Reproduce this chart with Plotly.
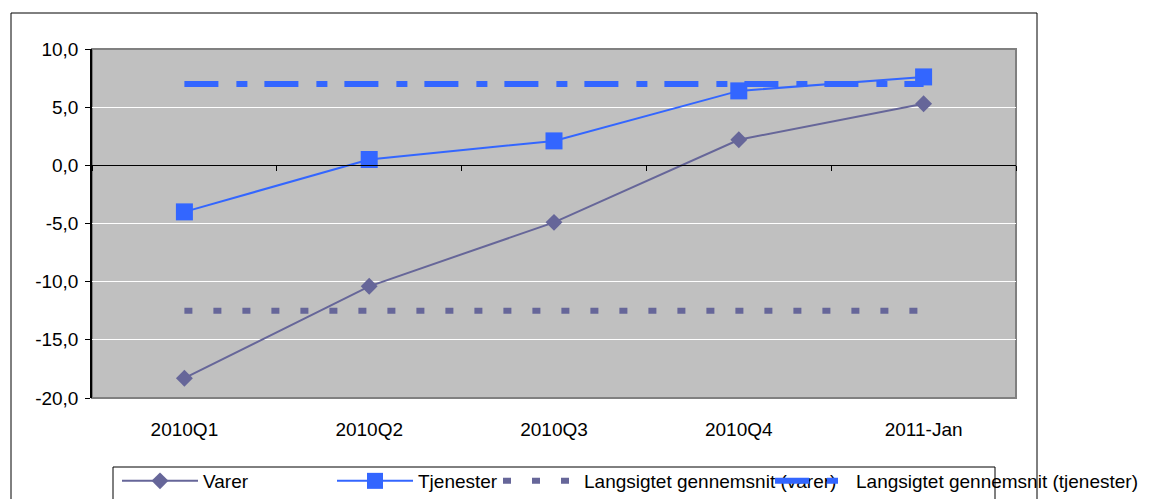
import plotly.graph_objects as go

categories = ["2010Q1", "2010Q2", "2010Q3", "2010Q4", "2011-Jan"]
varer = [-18.3, -10.4, -4.9, 2.2, 5.3]
tjenester = [-4.0, 0.5, 2.1, 6.4, 7.6]
avg_varer = [-12.5] * len(categories)
avg_tjenester = [7.0] * len(categories)
y_min, y_max, y_step = -20, 10, 5

FONT = "Liberation Sans, Arial, sans-serif"
C_VARER = "#666699"
C_TJEN = "#3366FF"

fig = go.Figure()
fig.add_trace(go.Scatter(x=categories, y=varer, name="Varer", mode="lines+markers",
                         line=dict(color=C_VARER, width=2),
                         marker=dict(symbol="diamond", size=13, color=C_VARER),
                         legend="legend"))
fig.add_trace(go.Scatter(x=categories, y=tjenester, name="Tjenester", mode="lines+markers",
                         line=dict(color=C_TJEN, width=2),
                         marker=dict(symbol="square", size=17, color=C_TJEN),
                         legend="legend2"))
fig.add_trace(go.Scatter(x=categories, y=avg_varer, name="Langsigtet gennemsnit (varer)", mode="lines",
                         line=dict(color=C_VARER, width=6, dash="8px,21px"),
                         legend="legend3"))
fig.add_trace(go.Scatter(x=categories, y=avg_tjenester, name="Langsigtet gennemsnit (tjenester)", mode="lines",
                         line=dict(color=C_TJEN, width=6, dash="34px,18px,11px,17px"),
                         legend="legend4"))
# invisible helper trace for the category axis drawn through zero
fig.add_trace(go.Scatter(x=[0], y=[0], xaxis="x2", mode="markers", marker=dict(opacity=0),
                         showlegend=False, hoverinfo="skip"))

n = len(categories)
zero_pos = (0 - y_min) / (y_max - y_min)
ytickvals = list(range(y_min, y_max + 1, y_step))
yticktext = [f"{v:.1f}".replace(".", ",") for v in ytickvals]

OFF = 8  # page body margin
W, H = 1150 - OFF, 499 - OFF
L, T = 92 - OFF, 49 - OFF
pw, ph = 924, 349
R, B = W - L - pw, H - T - ph
def px(xs): return (xs - OFF - L) / pw          # screen x -> paper
def py(ys): return (T + ph - (ys - OFF)) / ph   # screen y -> paper

leg_common = dict(orientation="h", xanchor="left", yanchor="middle", y=py(481),
                  bgcolor="rgba(0,0,0,0)", borderwidth=0, itemwidth=76,
                  font=dict(family=FONT, size=19, color="black"), itemclick=False)

fig.update_layout(
    width=W, height=H,
    margin=dict(l=L, r=R, t=T, b=B, autoexpand=False),
    paper_bgcolor="white", plot_bgcolor="#C0C0C0",
    font=dict(family=FONT, size=19, color="black"),
    xaxis=dict(type="category", categoryarray=categories, range=[-0.5, n - 0.5],
               showgrid=False, showline=False, zeroline=False, ticks="",
               tickfont=dict(size=19), ticklabelstandoff=18),
    xaxis2=dict(overlaying="x", anchor="free", position=zero_pos, range=[-0.5, n - 0.5],
                tickvals=[i - 0.5 for i in range(n + 1)], showticklabels=False,
                ticks="outside", ticklen=5, tickcolor="black", tickwidth=1,
                showline=True, linecolor="black", linewidth=1, showgrid=False, zeroline=False),
    yaxis=dict(range=[y_min, y_max], tickvals=ytickvals, ticktext=yticktext,
               showgrid=True, gridcolor="white", gridwidth=1, zeroline=False,
               showline=True, linecolor="black", linewidth=1.5,
               ticks="outside", ticklen=5, tickcolor="black", ticklabelstandoff=3,
               tickfont=dict(size=19)),
    showlegend=True,
    legend=dict(**leg_common, x=px(117)),
    legend2=dict(**leg_common, x=px(332)),
    legend3=dict(**leg_common, x=px(498)),
    legend4=dict(**leg_common, x=px(770)),
    shapes=[
        dict(type="rect", xref="paper", yref="paper", x0=0, x1=1, y0=0, y1=1,
             line=dict(color="#808080", width=2), layer="between"),
        dict(type="rect", xref="paper", yref="paper", x0=px(11), x1=px(1037), y0=py(560), y1=py(13),
             line=dict(color="black", width=1), fillcolor="rgba(0,0,0,0)", layer="above"),
        dict(type="rect", xref="paper", yref="paper", x0=px(113), x1=px(995), y0=py(560), y1=py(467),
             line=dict(color="black", width=1), fillcolor="rgba(0,0,0,0)", layer="above"),
    ],
)

fig.write_html("out.html")
